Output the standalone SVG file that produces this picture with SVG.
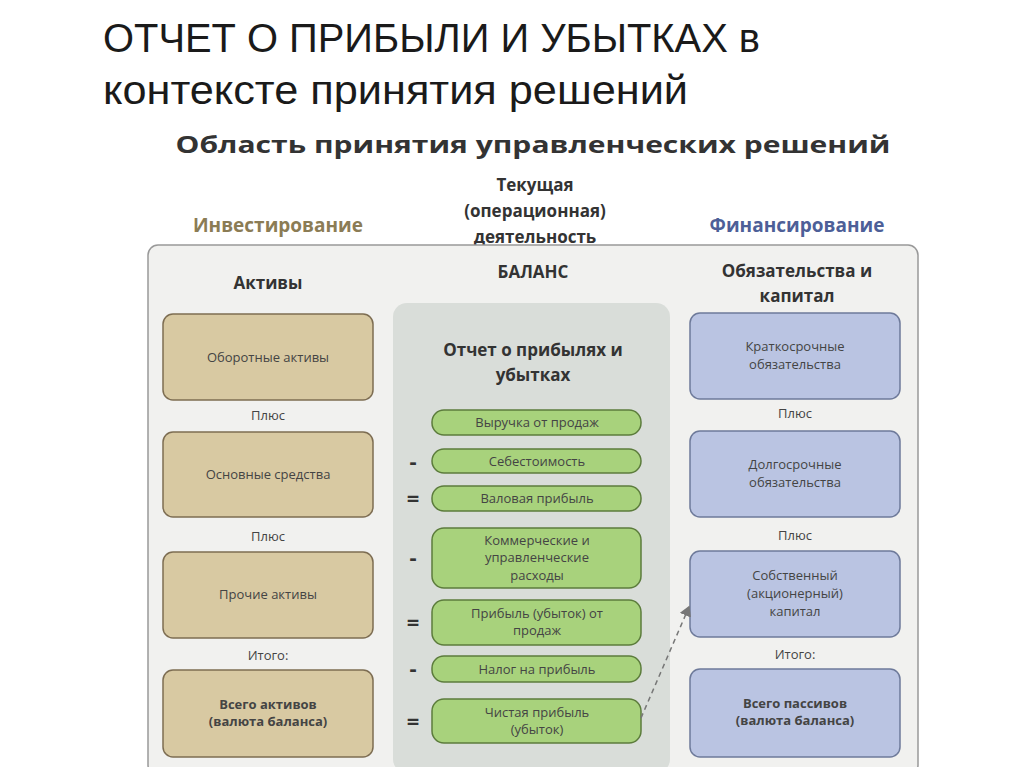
<svg xmlns="http://www.w3.org/2000/svg" width="1024" height="767" viewBox="0 0 1024 767">
<style>
text{font-family:"Open Sans","Liberation Sans",sans-serif;fill:#333;text-anchor:middle}
.title{font-family:"Liberation Sans",sans-serif;font-size:40px;fill:#1a1a1a;text-anchor:start}
.h{font-weight:bold;font-size:17px}
.s{font-size:13px;fill:#444}
.op{font-size:22px;font-weight:bold;fill:#333}
.tan{fill:#d8c9a2;stroke:#7d6d52;stroke-width:1.5}
.blue{fill:#bac4e2;stroke:#6e7a9a;stroke-width:1.5}
.pill{fill:#a8d27c;stroke:#5c7c3c;stroke-width:1.5}
</style>
<defs><marker id="ar" markerWidth="8" markerHeight="8" refX="6" refY="4" orient="auto"><path d="M0,0 L7,4 L0,8 z" fill="#777"/></marker></defs>
<rect width="1024" height="767" fill="#fff"/>
<text class="title" x="103" y="52" textLength="657" lengthAdjust="spacingAndGlyphs">ОТЧЕТ О ПРИБЫЛИ И УБЫТКАХ в</text>
<text class="title" x="103" y="104" textLength="585" lengthAdjust="spacingAndGlyphs">контексте принятия решений</text>
<text x="533" y="153" style="font-size:23px;font-weight:bold" textLength="715" lengthAdjust="spacingAndGlyphs">Область принятия управленческих решений</text>
<text class="h" x="535" y="191">Текущая</text>
<text class="h" x="535" y="217">(операционная)</text>
<text class="h" x="535" y="243">деятельность</text>
<text x="278" y="232" style="font-size:19px;font-weight:bold;fill:#8b7c55">Инвестирование</text>
<text x="797" y="232" style="font-size:19px;font-weight:bold;fill:#4d5f98">Финансирование</text>
<rect x="148" y="245" width="770" height="530" rx="10" fill="#f1f1ef" stroke="#999" stroke-width="1.5"/>
<text class="h" x="268" y="289">Активы</text>
<text class="h" x="533" y="278">БАЛАНС</text>
<text class="h" x="797" y="277">Обязательства и</text>
<text class="h" x="797" y="302">капитал</text>
<rect x="393" y="303" width="277" height="470" rx="14" fill="#d9ddd9"/>
<text class="h" x="533" y="356">Отчет о прибылях и</text>
<text class="h" x="533" y="381">убытках</text>
<g id="assets">
<g id="a1"><rect class="tan" x="163" y="314" width="210" height="86" rx="10"/><text class="s" x="268" y="362">Оборотные активы</text></g>
<text class="s" x="268" y="420">Плюс</text>
<g id="a2"><rect class="tan" x="163" y="432" width="210" height="85" rx="10"/><text class="s" x="268" y="479">Основные средства</text></g>
<text class="s" x="268" y="541">Плюс</text>
<g id="a3"><rect class="tan" x="163" y="552" width="210" height="86" rx="10"/><text class="s" x="268" y="599">Прочие активы</text></g>
<text class="s" x="268" y="660">Итого:</text>
<g id="a4"><rect class="tan" x="163" y="670" width="210" height="87" rx="10"/><text class="s" x="268" y="709" font-weight="bold">Всего активов</text><text class="s" x="268" y="726" font-weight="bold">(валюта баланса)</text></g>
</g>
<g id="liab">
<g id="l1"><rect class="blue" x="690" y="313" width="210" height="86" rx="10"/><text class="s" x="795" y="351">Краткосрочные</text><text class="s" x="795" y="369">обязательства</text></g>
<text class="s" x="795" y="418">Плюс</text>
<g id="l2"><rect class="blue" x="690" y="431" width="210" height="86" rx="10"/><text class="s" x="795" y="469">Долгосрочные</text><text class="s" x="795" y="487">обязательства</text></g>
<text class="s" x="795" y="540">Плюс</text>
<g id="l3"><rect class="blue" x="690" y="551" width="210" height="86" rx="10"/><text class="s" x="795" y="580">Собственный</text><text class="s" x="795" y="598">(акционерный)</text><text class="s" x="795" y="616">капитал</text></g>
<text class="s" x="795" y="659">Итого:</text>
<g id="l4"><rect class="blue" x="690" y="669" width="210" height="88" rx="10"/><text class="s" x="795" y="708" font-weight="bold">Всего пассивов</text><text class="s" x="795" y="725" font-weight="bold">(валюта баланса)</text></g>
</g>
<g id="pl">
<g id="p1"><rect class="pill" x="432" y="410" width="209" height="25" rx="12"/><text class="s" x="537" y="427">Выручка от продаж</text></g>
<g id="p2"><rect class="pill" x="432" y="449" width="209" height="24" rx="12"/><text class="s" x="537" y="466">Себестоимость</text></g>
<g id="p3"><rect class="pill" x="432" y="486" width="209" height="25" rx="12"/><text class="s" x="537" y="503">Валовая прибыль</text></g>
<g id="p4"><rect class="pill" x="432" y="528" width="209" height="60" rx="12"/><text class="s" x="537" y="545">Коммерческие и</text><text class="s" x="537" y="562">управленческие</text><text class="s" x="537" y="580">расходы</text></g>
<g id="p5"><rect class="pill" x="432" y="600" width="209" height="45" rx="12"/><text class="s" x="537" y="618">Прибыль (убыток) от</text><text class="s" x="537" y="635">продаж</text></g>
<g id="p6"><rect class="pill" x="432" y="656" width="209" height="26" rx="12"/><text class="s" x="537" y="674">Налог на прибыль</text></g>
<g id="p7"><rect class="pill" x="432" y="699" width="209" height="44" rx="12"/><text class="s" x="537" y="717">Чистая прибыль</text><text class="s" x="537" y="734">(убыток)</text></g>
<text class="op" x="413" y="469">-</text>
<text class="op" x="413" y="506">=</text>
<text class="op" x="413" y="565">-</text>
<text class="op" x="413" y="630">=</text>
<text class="op" x="413" y="676">-</text>
<text class="op" x="413" y="729">=</text>
</g>
<g id="connectors"><line x1="641" y1="718" x2="689" y2="607" stroke="#777" stroke-width="1.5" stroke-dasharray="5,4" marker-end="url(#ar)"/></g>
</svg>
